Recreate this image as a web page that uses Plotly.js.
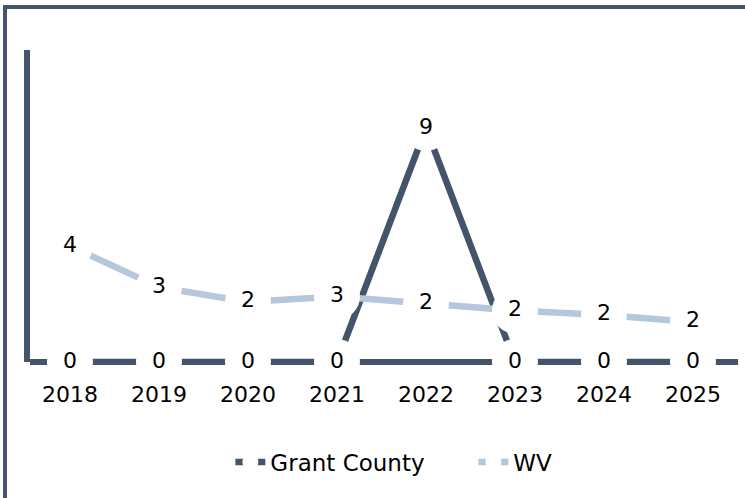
<!DOCTYPE html>
<html>
<head>
<meta charset="utf-8">
<script src="https://cdn.plot.ly/plotly-3.0.1.min.js"></script>
<style>
  html, body { margin: 0; padding: 0; background: #ffffff; overflow: hidden; }
  #wrap { position: relative; width: 745px; height: 498px; overflow: hidden; }
  #chart { position: absolute; left: 0; top: 0; width: 745px; height: 498px; }
  #frame { position: absolute; left: 3px; top: 5px; width: 800px; height: 600px;
           border-top: 4px solid #44546A; border-left: 4px solid #44546A; pointer-events: none; }
</style>
</head>
<body>
<div id="wrap">
  <div id="chart"></div>
  <div id="frame"></div>
</div>
<script>
// ---- data ----
var years = ['2018', '2019', '2020', '2021', '2022', '2023', '2024', '2025'];
var grantCounty = [0, 0, 0, 0, 9, 0, 0, 0];
var wv = [4.46, 2.88, 2.31, 2.52, 2.25, 1.98, 1.81, 1.54];
var seriesNames = ['Grant County', 'WV'];

var dark = '#44546A';
var light = '#B4C7DB';
var fontFam = 'DejaVu Sans, Liberation Sans, Arial, sans-serif';

function series(name, values, color) {
  return {
    type: 'scatter',
    mode: 'lines+markers+text',
    name: name,
    x: years,
    y: values,
    line: { color: color, width: 6.5 },
    marker: { symbol: 'circle', size: 46, color: '#ffffff', line: { color: '#ffffff', width: 0 } },
    texttemplate: '%{y:.0f}',
    textposition: 'middle center',
    textfont: { family: fontFam, size: 22, color: '#000000' },
    cliponaxis: false,
    hoverinfo: 'skip'
  };
}

var data = [
  series(seriesNames[0], grantCounty, dark),
  series(seriesNames[1], wv, light)
];

var layout = {
  width: 745,
  height: 498,
  margin: { l: 30, r: 7, t: 50, b: 136, pad: 0, autoexpand: false },
  paper_bgcolor: '#ffffff',
  plot_bgcolor: '#ffffff',
  font: { family: fontFam, size: 22, color: '#000000' },
  showlegend: true,
  legend: {
    orientation: 'h',
    x: 0.283, xanchor: 'left',
    y: -0.3205, yanchor: 'middle',
    entrywidth: 198,
    entrywidthmode: 'pixels',
    font: { family: fontFam, size: 23, color: '#000000' },
    bgcolor: 'rgba(0,0,0,0)'
  },
  xaxis: {
    type: 'category',
    range: [-0.449, 7.506],
    showgrid: false,
    zeroline: false,
    showline: false,
    ticks: '',
    ticklabelstandoff: 17,
    tickfont: { family: fontFam, size: 22, color: '#000000' },
    fixedrange: true
  },
  yaxis: {
    range: [0, 12],
    showgrid: false,
    showticklabels: false,
    ticks: '',
    showline: true,
    linecolor: dark,
    linewidth: 6.5,
    zeroline: true,
    zerolinecolor: dark,
    zerolinewidth: 6.5,
    layer: 'below traces',
    fixedrange: true
  }
};

Plotly.newPlot('chart', data, layout, { displayModeBar: false, staticPlot: true });
</script>
</body>
</html>
